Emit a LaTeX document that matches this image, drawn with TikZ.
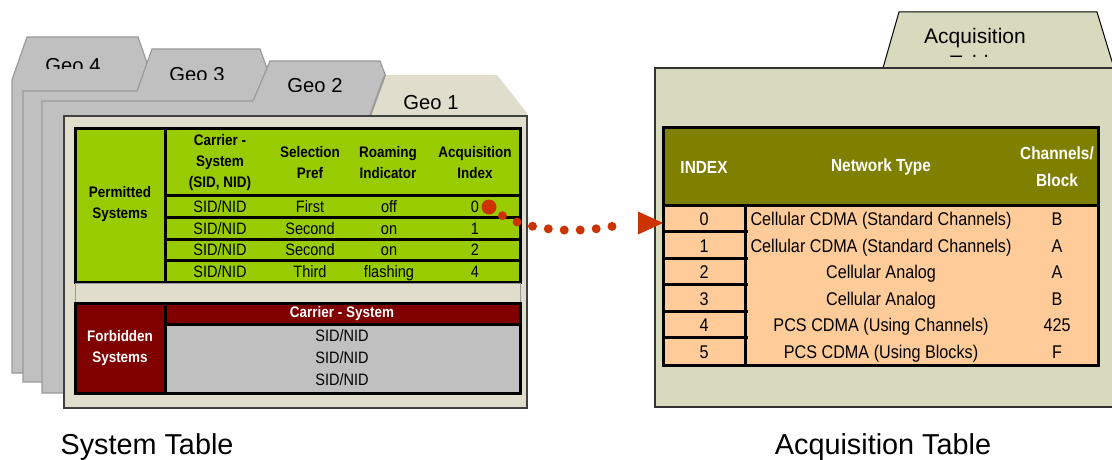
\documentclass[tikz,border=0pt]{standalone}
\usepackage{fontspec}
\setmainfont{Liberation Sans}
\newfontfamily\cond[FakeStretch=0.88]{Liberation Sans}
\usetikzlibrary{calc}

\definecolor{pagegray}{HTML}{C0C0C0}
\definecolor{pageedge}{HTML}{9A9A9A}
\definecolor{geobeige}{HTML}{E0DDCC}
\definecolor{permgreen}{HTML}{99CC00}
\definecolor{forbred}{HTML}{800000}
\definecolor{forbgray}{HTML}{C0C0C0}
\definecolor{acqpage}{HTML}{D8DABD}
\definecolor{acqhead}{HTML}{808000}
\definecolor{acqrow}{HTML}{FFCC99}
\definecolor{arrowred}{HTML}{CC3300}

\begin{document}
\begin{tikzpicture}[x=1pt,y=-1pt,
  grayfolder/.style={fill=pagegray, draw=pageedge, line width=1.2pt, line join=miter},
  pageborder/.style={draw=black!75, line width=1.2pt},
  tblrule/.style={line width=3pt, line cap=rect},
  geolbl/.style={font=\fontsize{20.2}{24}\selectfont, inner sep=0pt, text height=14.5pt, text depth=0pt},
  hdr/.style={font=\cond\bfseries\fontsize{15.3}{21}\selectfont, align=center, inner sep=0pt},
  cell/.style={font=\cond\fontsize{16.5}{20}\selectfont, inner sep=0pt, text height=11.8pt, text depth=0pt},
  acqcell/.style={font=\cond\fontsize{18.4}{22}\selectfont, inner sep=0pt, text height=13.2pt, text depth=0pt},
  acqhdr/.style={font=\cond\bfseries\fontsize{17.5}{27}\selectfont, text=white, align=center, inner sep=0pt},
  caption/.style={font=\fontsize{28.8}{34}\selectfont, inner sep=0pt, text height=20.6pt, text depth=0pt},
  dotline/.style={draw=arrowred, line width=9pt, line cap=round, dash pattern=on 0pt off 16pt},
]
\useasboundingbox (0,0) rectangle (1112,460);
\clip (0,0) rectangle (1112,460);

% ---------------- stacked geo folders ----------------
\draw[grayfolder] (12,373) -- (12,80) -- (27,37) -- (138,37) -- (153,80) -- (490,80) -- (490,373) -- cycle;
\begin{scope}
  \clip (35,50) rectangle (115,69);
  \node[geolbl] (geo4) at (73,65.2) {Geo 4};
\end{scope}

\draw[grayfolder] (23,382) -- (23,91) -- (137,91) -- (152,49) -- (260,49) -- (275,91) -- (490,91) -- (490,382) -- cycle;
\begin{scope}
  \clip (150,55) rectangle (250,80);
  \node[geolbl] (geo3) at (197,74.2) {Geo 3};
\end{scope}

\draw[grayfolder] (42,393) -- (42,101) -- (253,101) -- (270,61) -- (380,61) -- (395,101) -- (490,101) -- (490,393) -- cycle;
\begin{scope}
  \clip (265,65) rectangle (370,91.5);
  \node[geolbl] (geo2) at (315,85.2) {Geo 2};
\end{scope}

\fill[geobeige] (64,116) -- (370,116) -- (385,75) -- (497,75) -- (527,113) -- (527,408) -- (64,408) -- cycle;
\draw[pageedge, line width=2pt] (370,116) -- (385,75);
\draw[pageborder] (64,116) rectangle (527,408);
\node[geolbl] (geo1) at (431,102.2) {Geo 1};

% ---------------- permitted systems ----------------
\fill[permgreen] (75,128) rectangle (520,282);
\draw[tblrule] (75,128) rectangle (520,282);
\draw[tblrule] (165,128) -- (165,282);
\foreach \y in {195,217,239,260} \draw[tblrule] (165,\y) -- (520,\y);

\node[hdr] (perm) at (120,204) {Permitted\\Systems};
\node[hdr] (hcar) at (220,163) {Carrier -\\System\\(SID, NID)};
\node[hdr] (hsel) at (310,162.5) {Selection\\Pref};
\node[hdr] (hroam) at (388,162.5) {Roaming\\Indicator};
\node[hdr] (hacq) at (475,162.5) {Acquisition\\Index};

\foreach \i/\y/\sel/\roam/\idx in {1/207/First/off/0, 2/228.5/Second/on/1, 3/250/Second/on/2, 4/271.5/Third/flashing/4} {
  \node[cell] (sid\i) at (220,\y) {SID/NID};
  \node[cell] (sel\i) at (310,\y) {\sel};
  \node[cell] (roam\i) at (389,\y) {\roam};
  \node[cell] (idx\i) at (475,\y) {\idx};
}

% spacer strip
\draw[fill=geobeige, draw=black!40, line width=1pt] (75,283) rectangle (520,303);

% ---------------- forbidden systems ----------------
\fill[forbred] (75,303) rectangle (520,324);
\fill[forbred] (75,303) rectangle (165,393);
\fill[forbgray] (165,324) rectangle (520,393);
\draw[tblrule] (75,303) rectangle (520,393);
\draw[tblrule] (165,303) -- (165,393);
\draw[tblrule] (165,324) -- (520,324);

\node[hdr, text=white] (forb) at (120,348) {Forbidden\\Systems};
\node[hdr, text=white] (fcar) at (342,313.5) {Carrier - System};
\foreach \i/\y in {1/335.5, 2/358, 3/380} \node[cell] (fsid\i) at (342,\y) {SID/NID};

% ---------------- acquisition folder ----------------
\draw[fill=acqpage, draw=black, line width=1pt] (883,68) -- (899,12) -- (1097,12) -- (1114,68) -- cycle;
\begin{scope}
  \clip (890,15) rectangle (1110,57);
  \node[anchor=north, inner sep=0pt, align=center, font=\fontsize{21}{27}\selectfont] (acqtab) at (975,28) {Acquisition\\Table};
\end{scope}
\draw[fill=acqpage, draw=black!80, line width=1.2pt] (655,68) rectangle (1125,407);

\fill[acqhead] (663,127) rectangle (1098,205);
\fill[acqrow] (663,205) rectangle (1098,365);
\draw[tblrule] (663,127) rectangle (1098,365);
\draw[tblrule] (663,205) -- (1098,205);
\draw[tblrule] (745,205) -- (745,365);
\foreach \k in {1,...,5} \draw[tblrule] (663,{205+26.5*\k}) -- (746,{205+26.5*\k});
\coordinate (row0) at (663,223);

\node[acqhdr] (hindex) at (704,167) {INDEX};
\node[acqhdr] (hnet) at (881,167) {Network Type};
\node[acqhdr] (hch) at (1057,166.5) {Channels/\\Block};

\foreach \i/\net/\ch in {0/Cellular CDMA (Standard Channels)/B, 1/Cellular CDMA (Standard Channels)/A, 2/Cellular Analog/A, 3/Cellular Analog/B, 4/PCS CDMA (Using Channels)/425, 5/PCS CDMA (Using Blocks)/F} {
  \node[acqcell] (a\i) at (704,{219+26.5*\i}) {\i};
  \node[acqcell] (net\i) at (881,{219+26.5*\i}) {\net};
  \node[acqcell] (ch\i) at (1057,{219+26.5*\i}) {\ch};
}

% ---------------- link from index 0 to acquisition row 0 ----------------
\node[circle, fill=arrowred, minimum size=15pt, inner sep=0pt] (dot0) at (489,207) {};
\coordinate (tail) at ($(row0)+(-49,3)$);
\draw[dotline] (dot0.center) .. controls (520,232) and (575,234) .. (tail);
\fill[arrowred] (row0) -- ++(-25,-11.5) -- ++(0,23) -- cycle;

% ---------------- captions ----------------
\node[caption] (systab) at (147,444) {System Table};
\node[caption] (acqcap) at (883,444) {Acquisition Table};
\end{tikzpicture}
\end{document}
